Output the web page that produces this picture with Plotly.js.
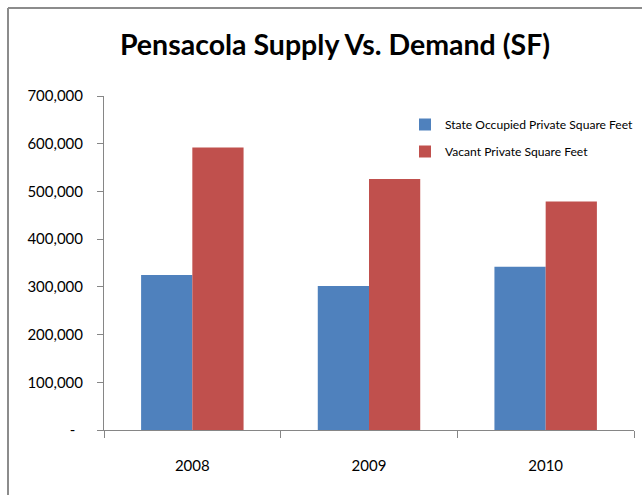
<!DOCTYPE html>
<html>
<head>
<meta charset="utf-8">
<script src="https://cdn.plot.ly/plotly-3.0.1.min.js"></script>
<style>html,body{margin:0;padding:0;background:#fff;}</style>
</head>
<body>
<div id="chart" style="width:642px;height:495px;"></div>
<script>
var years = ['2008', '2009', '2010'];
var stateOccupied = [325000, 302000, 342000];
var vacant = [592000, 526000, 479000];
var yTickVals = [0, 100000, 200000, 300000, 400000, 500000, 600000, 700000];
var yTickText = ['-\u00a0\u00a0', '100,000', '200,000', '300,000', '400,000', '500,000', '600,000', '700,000'];

var FONT = 'Lato, "Open Sans", sans-serif';

var traces = [
  {type: 'bar', name: 'State Occupied Private Square Feet', x: years, y: stateOccupied,
   legendgroup: 'a', marker: {color: '#4F81BD'}},
  {type: 'bar', name: 'Vacant Private Square Feet', x: years, y: vacant,
   legendgroup: 'b', marker: {color: '#C0504D'}}
];

var L = 104, R = 8, T = 96, B = 65;
var pw = 642 - L - R, ph = 495 - T - B;

var layout = {
  width: 642, height: 495,
  margin: {l: L, r: R, t: T, b: B, pad: 0, autoexpand: false},
  paper_bgcolor: '#ffffff', plot_bgcolor: '#ffffff',
  font: {family: FONT, size: 15, color: '#000000'},
  title: {text: '<b>Pensacola Supply Vs. Demand (SF)</b>', font: {family: FONT, size: 28.5, color: '#000'},
          x: 335 / 642, xanchor: 'center', y: 1 - 45 / 495, yanchor: 'middle'},
  barmode: 'group', bargap: 0.42, bargroupgap: 0,
  showlegend: true,
  legend: {xref: 'container', yref: 'container', x: 405 / 642, xanchor: 'left', y: 1 - 110 / 495, yanchor: 'top',
           font: {family: FONT, size: 12.1, color: '#000'}, bgcolor: 'rgba(0,0,0,0)',
           traceorder: 'grouped', tracegroupgap: 8, itemwidth: 30},
  xaxis: {type: 'category', showgrid: false, zeroline: false, showline: true, linecolor: '#868686', linewidth: 1,
          ticks: 'outside', tickson: 'boundaries', ticklen: 7, tickcolor: '#868686',
          tickfont: {family: FONT, size: 15, color: '#000'}, ticklabelstandoff: 22},
  yaxis: {range: [0, 700000], showgrid: false, zeroline: false, showline: true, linecolor: '#868686', linewidth: 1,
          ticks: 'outside', ticklen: 6, tickcolor: '#868686',
          tickvals: yTickVals, ticktext: yTickText,
          tickfont: {family: FONT, size: 15, color: '#000'}, ticklabelstandoff: 11},
  shapes: [
    {type: 'line', xref: 'paper', yref: 'paper', x0: (8 - L) / pw, x1: (8 - L) / pw, y0: (430 - 8) / ph, y1: -1,
     line: {color: '#8c8c8c', width: 2}},
    {type: 'line', xref: 'paper', yref: 'paper', x0: (8 - L) / pw, x1: 2, y0: (430 - 8) / ph, y1: (430 - 8) / ph,
     line: {color: '#8c8c8c', width: 2}}
  ]
};

Plotly.newPlot('chart', traces, layout, {displayModeBar: false, staticPlot: true});
</script>
</body>
</html>
